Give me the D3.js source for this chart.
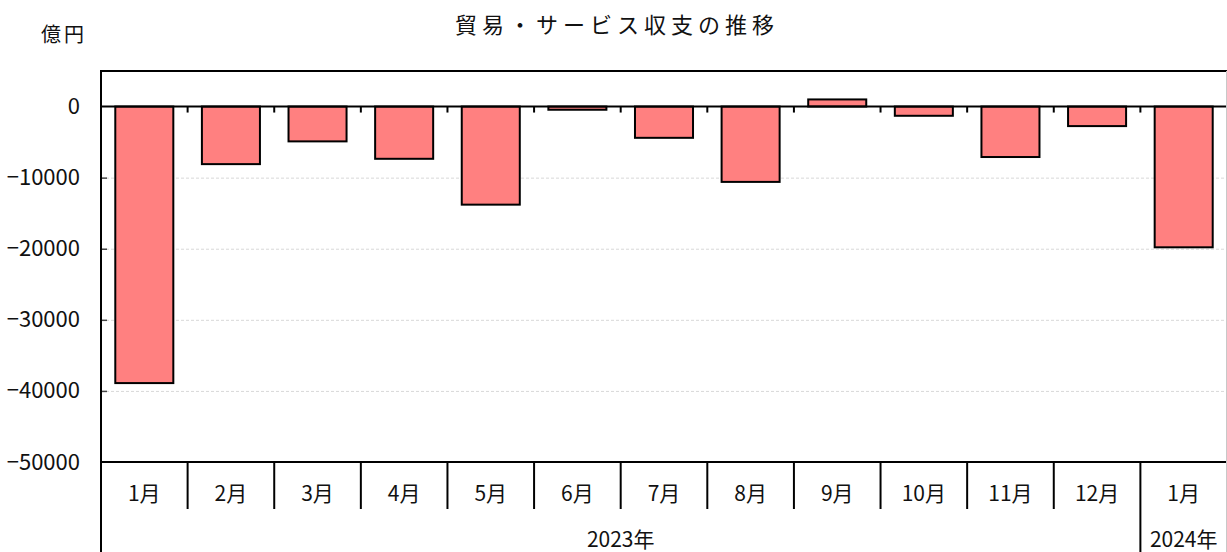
<!DOCTYPE html>
<html>
<head>
<meta charset="utf-8">
<script src="https://cdn.jsdelivr.net/npm/d3@7"></script>
<style>
  html, body { margin: 0; padding: 0; background: #fff; }
  svg { display: block; }
  text { font-family: "Noto Sans CJK JP", "Noto Sans", sans-serif; fill: #111; }
</style>
</head>
<body>
<svg id="chart" width="1227" height="552"></svg>
<script>
// ---- data ----
const categoryIds = ["2023-01","2023-02","2023-03","2023-04","2023-05","2023-06","2023-07","2023-08","2023-09","2023-10","2023-11","2023-12","2024-01"];
const monthLabels = ["1月","2月","3月","4月","5月","6月","7月","8月","9月","10月","11月","12月","1月"];
const balanceValues = [-38900, -8100, -4900, -7350, -13800, -450, -4400, -10600, 1000, -1300, -7100, -2750, -19800];
const yearLabels = ["2023年", "2024年"];
const yearMonthCounts = [12, 1];
const yTicks = [0, -10000, -20000, -30000, -40000, -50000];
const yDomain = [-50000, 5000];
const titleText = "貿易・サービス収支の推移";
const unitText = "億円";

// ---- layout ----
const W = 1227, H = 552;
const pLeft = 101, pRight = 1227, pTop = 71, pBottom = 462;
const svg = d3.select("#chart");

const y = d3.scaleLinear().domain(yDomain).range([pBottom, pTop]);
const xCell = d3.scaleBand().domain(categoryIds).range([pLeft, pRight]).padding(0);
const xBar = d3.scaleBand().domain(categoryIds).range([pLeft, pRight]).paddingInner(0.33).paddingOuter(0.165);

// gridlines
svg.append("g").selectAll("line")
  .data(yTicks.filter(v => v !== 0 && v !== yDomain[0]))
  .join("line")
  .attr("x1", pLeft).attr("x2", pRight)
  .attr("y1", d => y(d) + 0.5).attr("y2", d => y(d) + 0.5)
  .attr("stroke", "#d8d8d8").attr("stroke-width", 1).attr("stroke-dasharray", "3,2");

// small inner ticks on left axis
svg.append("g").selectAll("line")
  .data(yTicks.filter(v => v !== 0 && v !== yDomain[0]))
  .join("line")
  .attr("x1", pLeft).attr("x2", pLeft + 6)
  .attr("y1", d => y(d) + 0.5).attr("y2", d => y(d) + 0.5)
  .attr("stroke", "#444").attr("stroke-width", 1.5);

// y tick labels via axis
const yAxis = d3.axisLeft(y).tickValues(yTicks).tickSize(0).tickPadding(0).tickFormat(d3.format("d"));
const gy = svg.append("g").attr("transform", `translate(${pLeft - 21},0)`).call(yAxis);
gy.select(".domain").remove();
gy.selectAll("text").attr("font-size", 22).attr("font-family", "\"Noto Sans CJK JP\", sans-serif").attr("fill", "#111");

// bars
svg.append("g").selectAll("rect")
  .data(balanceValues)
  .join("rect")
  .attr("x", (d, i) => xBar(categoryIds[i]))
  .attr("width", xBar.bandwidth())
  .attr("y", d => y(Math.max(0, d)))
  .attr("height", d => Math.abs(y(d) - y(0)))
  .attr("fill", "#FF8080")
  .attr("stroke", "#000").attr("stroke-width", 2);

// zero line
svg.append("line")
  .attr("x1", pLeft).attr("x2", pRight)
  .attr("y1", y(0)).attr("y2", y(0))
  .attr("stroke", "#000").attr("stroke-width", 2);

// ticks on zero line at category boundaries
svg.append("g").selectAll("line")
  .data(categoryIds.slice(1))
  .join("line")
  .attr("x1", d => xCell(d)).attr("x2", d => xCell(d))
  .attr("y1", y(0)).attr("y2", y(0) + 6)
  .attr("stroke", "#000").attr("stroke-width", 2);

// frame
svg.append("line").attr("x1", pLeft).attr("x2", pRight).attr("y1", pTop).attr("y2", pTop).attr("stroke", "#000").attr("stroke-width", 2);
svg.append("line").attr("x1", pLeft).attr("x2", pRight).attr("y1", pBottom).attr("y2", pBottom).attr("stroke", "#000").attr("stroke-width", 2);
svg.append("line").attr("x1", pLeft).attr("x2", pLeft).attr("y1", pTop - 1).attr("y2", H).attr("stroke", "#000").attr("stroke-width", 2);
svg.append("line").attr("x1", pRight - 0.5).attr("x2", pRight - 0.5).attr("y1", pTop).attr("y2", H).attr("stroke", "#c8c8c8").attr("stroke-width", 1);

// month separators
const yearStarts = [];
{ let acc = 0; yearMonthCounts.forEach(c => { yearStarts.push(acc); acc += c; }); }
svg.append("g").selectAll("line")
  .data(categoryIds.slice(1).map((id, k) => ({ id, idx: k + 1 })))
  .join("line")
  .attr("x1", d => xCell(d.id)).attr("x2", d => xCell(d.id))
  .attr("y1", pBottom).attr("y2", d => yearStarts.includes(d.idx) ? H : 509)
  .attr("stroke", "#000").attr("stroke-width", 2);

// month labels
svg.append("g").selectAll("text")
  .data(monthLabels)
  .join("text")
  .attr("x", (d, i) => xCell(categoryIds[i]) + xCell.bandwidth() / 2)
  .attr("y", 501)
  .attr("text-anchor", "middle")
  .attr("font-size", 21)
  .text(d => d);

// year labels
svg.append("g").selectAll("text")
  .data(yearLabels)
  .join("text")
  .attr("x", (d, i) => {
    const s = yearStarts[i], e = s + yearMonthCounts[i] - 1;
    return (xCell(categoryIds[s]) + xCell(categoryIds[e]) + xCell.bandwidth()) / 2;
  })
  .attr("y", 547)
  .attr("text-anchor", "middle")
  .attr("font-size", 21)
  .text(d => d);

// title and unit
svg.append("text").attr("x", 617).attr("y", 33).attr("text-anchor", "middle")
  .attr("font-size", 22).attr("letter-spacing", 5).text(titleText);
svg.append("text").attr("x", 41).attr("y", 42)
  .attr("font-size", 20).attr("letter-spacing", 3).text(unitText);
</script>
</body>
</html>
